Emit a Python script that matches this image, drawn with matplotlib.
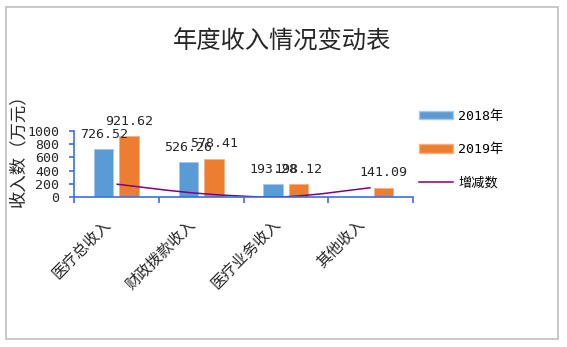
import matplotlib.pyplot as plt
import numpy as np
from matplotlib.path import Path
from matplotlib.patches import PathPatch, Rectangle, Patch
from matplotlib.lines import Line2D

# data
categories = ['医疗总收入', '财政拨款收入', '医疗业务收入', '其他收入']
income_2018 = [726.52, 526.26, 193.28, 0]
income_2019 = [921.62, 578.41, 198.12, 141.09]
change = [195.10, 52.15, 4.84, 141.09]

cjk = ['Noto Sans CJK SC', 'DejaVu Sans']
mono = ['DejaVu Sans Mono', 'Noto Sans CJK SC']
plt.rcParams['font.family'] = cjk

blue = '#5b9bd5'
orange = '#ed7d31'
purple = '#800080'
axis_blue = '#3a6ee8'
text_c = '#262626'

fig = plt.figure(figsize=(5.67, 3.47), dpi=100)
ax = fig.add_axes([74 / 567, 1 - 197 / 347, 339 / 567, 66 / 347])

# outer chart frame
fig.patches.append(Rectangle((6 / 567, 1 - 339 / 347), 552 / 567, 332 / 347,
                             transform=fig.transFigure, fill=False,
                             edgecolor='#bfbfbf', linewidth=1.2))

x = np.arange(len(categories))
w = 0.23
off = 0.15
ax.bar(x - off, income_2018, w, color=blue, edgecolor='#a9c8ea', linewidth=0.6)
ax.bar(x + off, income_2019, w, color=orange, edgecolor='#f4b183', linewidth=0.6)

# value labels
for xs, vals in [(x - off, income_2018), (x + off, income_2019)]:
    for xi, v in zip(xs, vals):
        if v == 0:
            continue
        ax.annotate(f'{v:.2f}', (xi, v), xytext=(0, 6), textcoords='offset points',
                    ha='center', va='bottom', fontsize=9.5, family=mono,
                    color=text_c, clip_on=False)

# smoothed change line (Catmull-Rom through the points)
pts = np.column_stack([x, change]).astype(float)
verts = [pts[0]]
codes = [Path.MOVETO]
for i in range(len(pts) - 1):
    p0 = pts[i - 1] if i > 0 else pts[i]
    p1, p2 = pts[i], pts[i + 1]
    p3 = pts[i + 2] if i + 2 < len(pts) else pts[i + 1]
    c1 = p1 + (p2 - p0) / 6
    c2 = p2 - (p3 - p1) / 6
    verts += [c1, c2, p2]
    codes += [Path.CURVE4] * 3
ax.add_patch(PathPatch(Path(verts, codes), fill=False, edgecolor=purple, linewidth=1.1))

ax.set_xlim(-0.5, 3.5)
ax.set_ylim(0, 1000)
ax.set_yticks(range(0, 1001, 200))

# category labels, slanted, drawn below the axis
ax.set_xticks(x)
ax.set_xticklabels([])
for xi, name in zip(x, categories):
    ax.annotate(name, (xi, 0), xycoords=ax.get_xaxis_transform(),
                xytext=(-10, -13.5), textcoords='offset points',
                rotation=45, ha='right', va='top', rotation_mode='anchor',
                fontsize=11, color=text_c)
ax.set_xticks(np.arange(-0.5, 4, 1), minor=True)
ax.tick_params(axis='x', which='major', length=0)
ax.tick_params(axis='x', which='minor', length=4, color=axis_blue, width=1.2)
ax.tick_params(axis='y', length=3.5, color=axis_blue, width=1.2, pad=7,
               labelsize=9.5, labelcolor=text_c)
for lab in ax.get_yticklabels():
    lab.set_family(mono)

for s in ['top', 'right']:
    ax.spines[s].set_visible(False)
for s in ['left', 'bottom']:
    ax.spines[s].set_color(axis_blue)
    ax.spines[s].set_linewidth(1.2)

fig.text(18 / 567, 1 - 146 / 347, '收入数（万元）', rotation=90, ha='center',
         va='center', fontsize=12.5, color=text_c)
fig.text(282 / 567, 1 - 42 / 347, '年度收入情况变动表', ha='center', va='center',
         fontsize=17.5, color=text_c)

handles = [Patch(facecolor=blue, edgecolor='#a9c8ea'),
           Patch(facecolor=orange, edgecolor='#f4b183'),
           Line2D([], [], color=purple, linewidth=1.1)]
fig.legend(handles, ['2018年', '2019年', '增减数'], loc='upper left',
           bbox_to_anchor=(407 / 567, 1 - 98 / 347), frameon=False,
           handlelength=2.6, handleheight=0.6, labelspacing=1.55,
           handletextpad=0.4, prop={'family': mono, 'size': 9.5})

fig.savefig('out.png', dpi=100)
